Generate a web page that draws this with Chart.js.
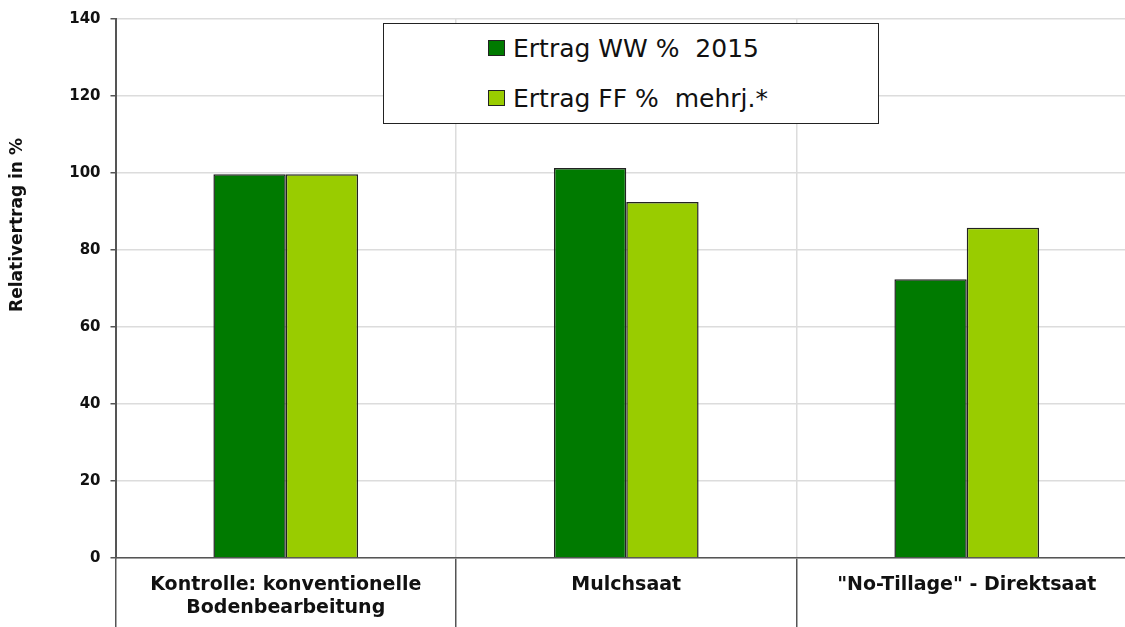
<!DOCTYPE html>
<html>
<head>
<meta charset="utf-8">
<script src="https://cdn.jsdelivr.net/npm/chart.js@4"></script>
<style>
  html, body { margin: 0; padding: 0; background: #fff; overflow: hidden; }
  #wrap { position: relative; width: 1140px; height: 627px; }
  #legend {
    position: absolute; left: 383px; top: 23px; width: 494px; height: 99px;
    border: 1.5px solid #222; background: #fff;
    font-family: "DejaVu Sans", sans-serif; font-size: 25px; color: #111;
  }
  #legend .item { position: absolute; left: 104px; white-space: pre; line-height: 30px; }
  #legend .box { display: inline-block; width: 15px; height: 14px; border: 1px solid #222; margin-right: 8px; vertical-align: 1px; }
</style>
</head>
<body>
<div id="wrap">
  <canvas id="chart" width="1140" height="627"></canvas>
  <div id="legend"></div>
</div>
<script>
const categories = [['Kontrolle: konventionelle', 'Bodenbearbeitung'], 'Mulchsaat', '"No-Tillage" - Direktsaat'];
const seriesLabels = ['Ertrag WW %  2015', 'Ertrag FF %  mehrj.*'];
const ertragWW = [99.7, 101.3, 72.4];
const ertragFF = [99.7, 92.5, 85.8];
const seriesColors = ['#007a00', '#99cc00'];
const yMin = 0, yMax = 140, yStep = 20;
const yTitle = 'Relativertrag in %';

// y axis title drawn at the left edge, like the original
const yTitlePlugin = {
  id: 'yTitle',
  afterDraw(chart) {
    const c = chart.ctx;
    c.save();
    c.translate(18, 225);
    c.rotate(-Math.PI / 2);
    c.font = 'bold 17px "DejaVu Sans"';
    c.fillStyle = '#111';
    c.textAlign = 'center';
    c.textBaseline = 'middle';
    c.fillText(yTitle, 0, 0);
    c.restore();
  }
};

const ctx = document.getElementById('chart').getContext('2d');
const chart = new Chart(ctx, {
  type: 'bar',
  data: {
    labels: categories,
    datasets: [{
      label: seriesLabels[0],
      data: ertragWW,
      backgroundColor: seriesColors[0],
      borderColor: '#222',
      borderWidth: 1.5,
      categoryPercentage: 0.425,
      barPercentage: 1
    }, {
      label: seriesLabels[1],
      data: ertragFF,
      backgroundColor: seriesColors[1],
      borderColor: '#222',
      borderWidth: 1.5,
      categoryPercentage: 0.425,
      barPercentage: 1
    }]
  },
  options: {
    responsive: false,
    animation: false,
    layout: { padding: { top: 14, left: 0, right: 3, bottom: 0 } },
    plugins: {
      legend: { display: false },
      tooltip: { enabled: false }
    },
    scales: {
      x: {
        offset: true,
        grid: { color: '#dcdcdc', tickColor: '#555', tickLength: 69, offset: true, lineWidth: 1.5 },
        border: { color: '#555', width: 1.5 },
        ticks: {
          color: '#111',
          font: { family: '"DejaVu Sans"', size: 19, weight: 'bold' },
          padding: -53,
          maxRotation: 0,
          autoSkip: false
        },
        afterFit: s => { s.height = 69; }
      },
      y: {
        min: yMin, max: yMax,
        grid: { color: '#dcdcdc', tickColor: '#555', tickLength: 5, lineWidth: 1.5 },
        border: { color: '#555', width: 2 },
        ticks: {
          stepSize: yStep,
          color: '#111',
          padding: 10,
          font: { family: '"DejaVu Sans"', size: 15, weight: 'bold' }
        },
        afterFit: s => { s.width = 115.5; }
      }
    }
  },
  plugins: [yTitlePlugin]
});

// legend built from the datasets
const legend = document.getElementById('legend');
chart.data.datasets.forEach((ds, i) => {
  const item = document.createElement('div');
  item.className = 'item';
  item.style.top = (10 + i * 50) + 'px';
  const box = document.createElement('span');
  box.className = 'box';
  box.style.background = ds.backgroundColor;
  item.appendChild(box);
  item.appendChild(document.createTextNode(ds.label));
  legend.appendChild(item);
});
</script>
</body>
</html>
